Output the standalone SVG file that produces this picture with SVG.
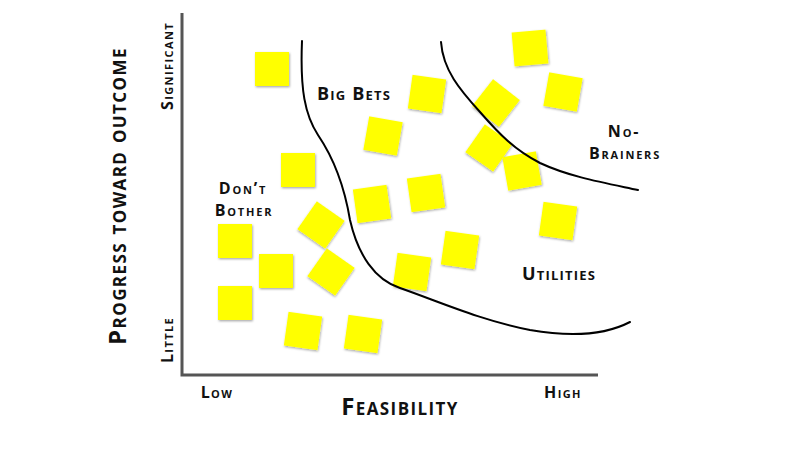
<svg xmlns="http://www.w3.org/2000/svg" width="800" height="450" viewBox="0 0 800 450">
<style>
.note{fill:#ffff00;filter:url(#sh)}
.lbl{font-family:"Open Sans","Liberation Sans",sans-serif;font-variant:small-caps;font-weight:700;fill:#111;text-anchor:middle;font-size:18px;letter-spacing:1.2px}
.two{font-size:16px;letter-spacing:1.8px}
.tick{font-size:16px;letter-spacing:1.4px}
.title{font-size:24px;letter-spacing:1.4px}
.curve{fill:none;stroke:#000;stroke-width:2;stroke-linecap:round}
.axis{fill:none;stroke:#555;stroke-width:3}
</style>
<defs>
<filter id="sh" x="-20%" y="-20%" width="150%" height="150%">
<feDropShadow dx="0.8" dy="1.2" stdDeviation="1" flood-color="#000" flood-opacity="0.35"/>
</filter>
<rect id="n" x="-17" y="-17" width="34" height="34"/>
</defs>
<rect width="800" height="450" fill="#fff"/>
<g id="axes">
<path class="axis" d="M182,13 V375 H598"/>
</g>
<g id="notes">
<use href="#n" class="note" transform="translate(272,69)"/>
<use href="#n" class="note" transform="translate(298,170)"/>
<use href="#n" class="note" transform="translate(383,136) rotate(10)"/>
<use href="#n" class="note" transform="translate(427,94) rotate(8)"/>
<use href="#n" class="note" transform="translate(530,48) rotate(-5)"/>
<use href="#n" class="note" transform="translate(563,92) rotate(10)"/>
<use href="#n" class="note" transform="translate(496,103) rotate(38)"/>
<use href="#n" class="note" transform="translate(489,148) rotate(35)"/>
<use href="#n" class="note" transform="translate(522,171) rotate(-10)"/>
<use href="#n" class="note" transform="translate(372,204) rotate(-8)"/>
<use href="#n" class="note" transform="translate(426,193) rotate(-8)"/>
<use href="#n" class="note" transform="translate(321,225) rotate(35)"/>
<use href="#n" class="note" transform="translate(331,272) rotate(35)"/>
<use href="#n" class="note" transform="translate(235,241)"/>
<use href="#n" class="note" transform="translate(276,271)"/>
<use href="#n" class="note" transform="translate(235,303)"/>
<use href="#n" class="note" transform="translate(303,331) rotate(8)"/>
<use href="#n" class="note" transform="translate(363,334) rotate(8)"/>
<use href="#n" class="note" transform="translate(412,272) rotate(8)"/>
<use href="#n" class="note" transform="translate(460,250) rotate(8)"/>
<use href="#n" class="note" transform="translate(558,221) rotate(8)"/>
</g>
<g id="curves">
<path class="curve" d="M302,41 C300,90 305,115 318,135 C335,160 345,190 350,220 C358,255 375,280 400,288 C440,302 480,320 530,330 C570,337 605,335 630,322"/>
<path class="curve" d="M441,42 C443,70 460,90 480,112 C500,135 515,150 540,163 C570,177 605,183 638,190"/>
</g>
<g id="labels">
<text class="lbl" x="354" y="100">Big Bets</text>
<text class="lbl two" x="243" y="194">Don’t</text>
<text class="lbl two" x="244" y="216">Bother</text>
<text class="lbl two" x="624" y="137">No-</text>
<text class="lbl two" x="625" y="159">Brainers</text>
<text class="lbl" x="559" y="280">Utilities</text>
<text class="lbl tick" x="217" y="398">Low</text>
<text class="lbl tick" x="563" y="398">High</text>
<text class="lbl title" x="400" y="415">Feasibility</text>
<text class="lbl title" transform="translate(126,196) rotate(-90)">Progress toward outcome</text>
<text class="lbl tick" transform="translate(173,66) rotate(-90)">Significant</text>
<text class="lbl tick" transform="translate(173,340) rotate(-90)">Little</text>
</g>
</svg>
